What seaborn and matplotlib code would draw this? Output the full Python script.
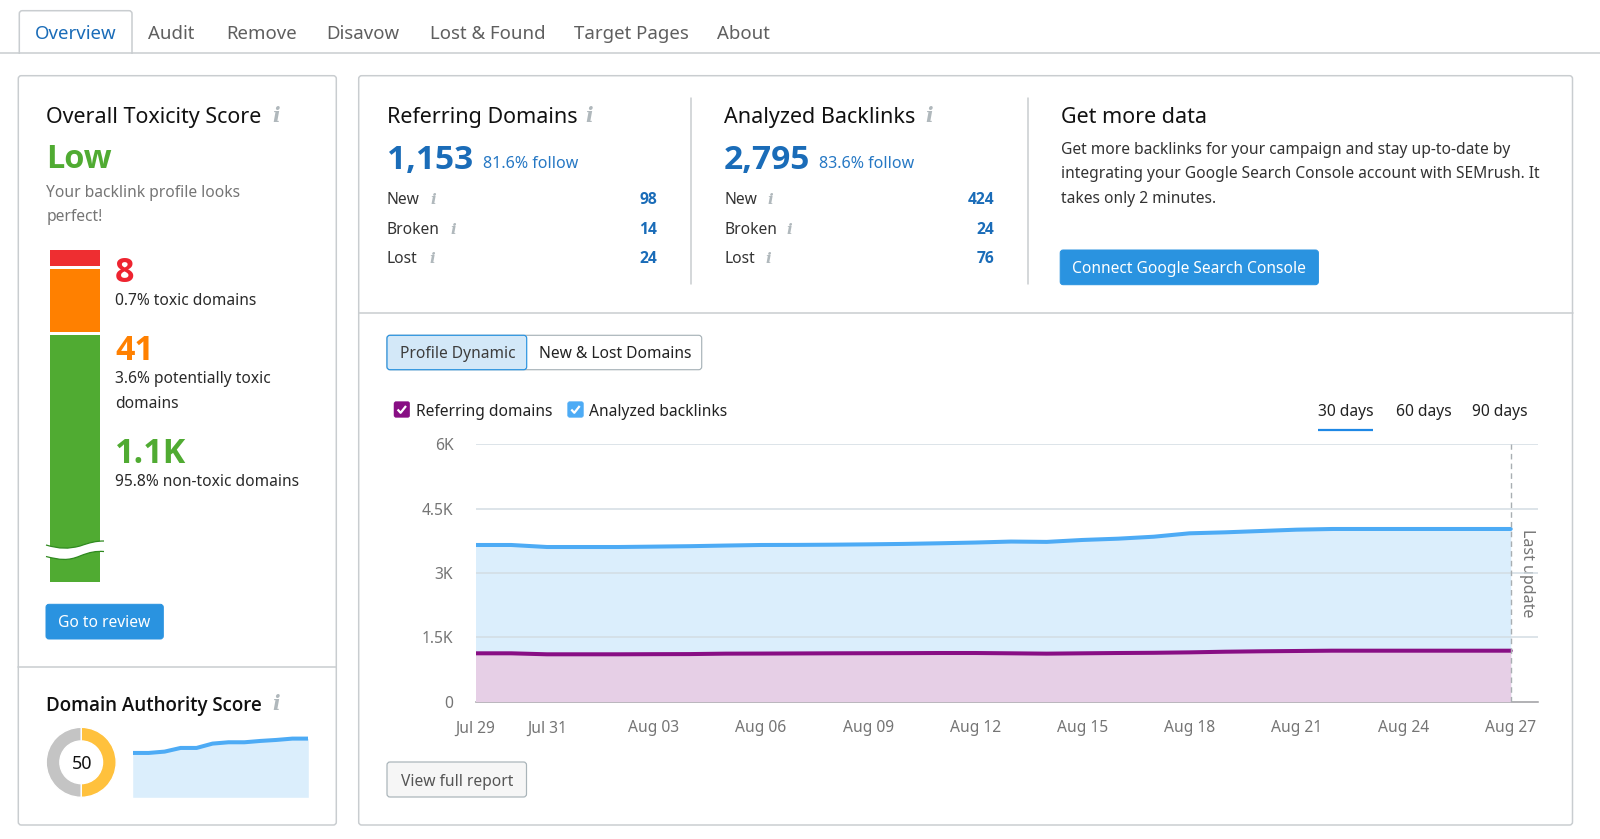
import numpy as np
import pandas as pd
import matplotlib
matplotlib.use('Agg')
import matplotlib.pyplot as plt
import seaborn as sns
from matplotlib.patches import FancyBboxPatch, Rectangle, PathPatch
from matplotlib.path import Path

sns.set_style('white')
plt.rcParams['font.family'] = ['Noto Sans', 'DejaVu Sans']

# chart data
day_index = list(range(30))
backlinks = [3653, 3653, 3606, 3606, 3606, 3615, 3625, 3640, 3653, 3655,
             3660, 3668, 3678, 3693, 3710, 3733, 3725, 3770, 3800, 3846,
             3925, 3948, 3979, 4010, 4026, 4026, 4026, 4026, 4026, 4026]
ref_domains = [1128, 1128, 1105, 1105, 1105, 1108, 1110, 1120, 1122, 1125,
               1128, 1130, 1132, 1135, 1135, 1128, 1120, 1128, 1135, 1140,
               1150, 1165, 1175, 1182, 1189, 1189, 1189, 1189, 1189, 1189]
tick_days = [0, 2, 5, 8, 11, 14, 17, 20, 23, 26, 29]
tick_dates = ['Jul 29', 'Jul 31', 'Aug 03', 'Aug 06', 'Aug 09', 'Aug 12',
              'Aug 15', 'Aug 18', 'Aug 21', 'Aug 24', 'Aug 27']
y_ticks = [0, 1500, 3000, 4500, 6000]
y_tick_labels = ['0', '1.5K', '3K', '4.5K', '6K']

tabs = ['Overview', 'Audit', 'Remove', 'Disavow', 'Lost & Found', 'Target Pages', 'About']
tab_x = [34.7, 148, 226, 326.5, 429.6, 573.5, 717.3]

toxic_labels = ['8', '41', '1.1K']
toxic_bar_lengths = [16, 63, 247]
toxic_colors = ['#ee2e31', '#ff8000', '#50ab32']
authority_share = [50, 50]
authority_trend = [133, 133, 137, 148, 148, 161, 165, 165, 169, 172, 176, 176]

W, H = 1600, 839
BLUE = '#2a93e0'
LINK = '#1a6cb8'
DARK = '#2a2a2a'
GRAY = '#757575'
SANS_BODY = 15.6


def px(size):
    return size * 0.72


fig = plt.figure(figsize=(W / 100, H / 100), dpi=100, facecolor='white')
ui = fig.add_axes([0, 0, 1, 1])
ui.set_xlim(0, W)
ui.set_ylim(H, 0)
ui.axis('off')


def sub_axes(x0, y0, x1, y1):
    # axes from pixel corners, y counted from the top
    a = fig.add_axes([x0 / W, 1 - y1 / H, (x1 - x0) / W, (y1 - y0) / H])
    a.patch.set_alpha(0)
    return a


def txt(x, y, s, size=SANS_BODY, color=DARK, ha='left', weight='normal', va='center_baseline', **kw):
    if size < 17:
        y -= 0.7
    # the Noto Sans here has no bold face, Open Sans has
    family = 'Noto Sans' if weight == 'normal' else 'Open Sans'
    ui.text(x, y, s, fontsize=px(size), color=color, ha=ha, va=va,
            fontweight=weight, family=family, **kw)


def box(x0, y0, x1, y1, fc='white', ec='#c9cdd0', lw=1.5, r=3):
    ui.add_patch(FancyBboxPatch((x0, y0), x1 - x0, y1 - y0, boxstyle=f'round,pad=0,rounding_size={r}',
                                fc=fc, ec=ec, lw=lw * 0.72))


def info(x, y, size=20):
    ui.text(x, y + 1.5, 'i', fontsize=px(size), color='#b0b8bc', ha='center', va='center',
            family='DejaVu Serif', style='italic', fontweight='bold')


# tab strip
ui.plot([0, W], [52.7, 52.7], color='#c9cdd0', lw=1.1)
ui.add_patch(FancyBboxPatch((19.3, 10.7), 112.7, 50, boxstyle='round,pad=0,rounding_size=3',
                            fc='white', ec='#c9cdd0', lw=1.1))
ui.add_patch(Rectangle((18, 53.5), 116, 12, fc='white', ec='none', zorder=2))
for name, x in zip(tabs, tab_x):
    txt(x, 32, name, size=18.6, color='#1a6cb8' if name == 'Overview' else '#5f5f5f', zorder=3)

# cards
box(18.3, 75.7, 336.3, 825)
ui.plot([18.3, 336.3], [667, 667], color='#c9cdd0', lw=1.1)
box(358.7, 75.7, 1572.5, 825)
ui.plot([358.7, 1572.5], [312.5, 312.5], color='#c9cdd0', lw=1.1)
ui.plot([690.6, 690.6], [98, 284], color='#c9cdd0', lw=1.1)
ui.plot([1027.6, 1027.6], [98, 284], color='#c9cdd0', lw=1.1)

# toxicity card
txt(46.5, 115, 'Overall Toxicity Score', size=21.5, color='#111111')
info(276.5, 115)
txt(46.5, 155, 'Low', size=32.5, color=toxic_colors[2], weight='bold')
txt(46.3, 191.3, 'Your backlink profile looks', color=GRAY)
txt(46.3, 215.7, 'perfect!', color=GRAY)

# stacked toxicity bar, 3 px of white between the segments
bar_ax = sub_axes(50, 250, 100, 582)
bottom = 0
for length, color in zip(toxic_bar_lengths, toxic_colors):
    bar_ax.bar(0, length, bottom=bottom, width=1, color=color, linewidth=0)
    bottom += length + 3
bar_ax.set_xlim(-0.5, 0.5)
bar_ax.set_ylim(bottom - 3, 0)
bar_ax.axis('off')

# white wave that marks the broken bar
wave_ax = fig.add_axes([0, 0, 1, 1], sharex=ui, sharey=ui)
wave_ax.axis('off')
wave_ax.patch.set_alpha(0)
verts = [(46, 545), (60, 549), (68, 549), (80, 546), (90, 542.5), (96, 541), (104, 541),
         (104, 551.5), (96, 551), (90, 552), (80, 556), (68, 561), (60, 560), (46, 556.5), (46, 545)]
codes = [Path.MOVETO] + [Path.CURVE4] * 6 + [Path.LINETO] + [Path.CURVE4] * 6 + [Path.CLOSEPOLY]
wave_ax.add_patch(PathPatch(Path(verts, codes), fc='white', ec='none'))
wave_ax.add_patch(PathPatch(Path(verts[:7], codes[:7]), fc='none', ec='#2f8a1f', lw=0.9))
wave_ax.add_patch(PathPatch(Path(verts[7:14], [Path.MOVETO] + [Path.CURVE4] * 6), fc='none', ec='#2f8a1f', lw=0.9))

txt(115, 268.5, toxic_labels[0], size=34, color='#ee2430', weight='bold')
txt(115, 300, '0.7% toxic domains')
txt(115, 347.5, toxic_labels[1], size=34, color=toxic_colors[1], weight='bold')
txt(115, 378, '3.6% potentially toxic')
txt(115, 402.7, 'domains')
txt(115, 450, toxic_labels[2], size=34, color=toxic_colors[2], weight='bold')
txt(115, 480.7, '95.8% non-toxic domains')

box(46, 604.3, 163.3, 639, fc=BLUE, ec=BLUE, lw=1)
txt(104.6, 621.5, 'Go to review', color='white', ha='center')

txt(46.5, 703, 'Domain Authority Score', size=18.8, color='#111111', weight='semibold')
info(276, 703)

# donut
donut_ax = sub_axes(46.2, 727.3, 116.2, 797.3)
donut_ax.pie(authority_share, colors=['#ffc13d', '#c4c4c4'], startangle=90, counterclock=False,
             radius=1, wedgeprops={'width': 0.39, 'edgecolor': 'white', 'linewidth': 1.0})
donut_ax.set_xlim(-1, 1)
donut_ax.set_ylim(-1, 1)
txt(81.7, 762.3, '50', size=18, color='#111111', ha='center')

# authority sparkline
spark_ax = sub_axes(132.7, 730.6, 308.3, 797.3)
spark_x = np.arange(len(authority_trend))
spark_ax.fill_between(spark_x, authority_trend, color='#dbeefc', lw=0)
sns.lineplot(x=spark_x, y=authority_trend, ax=spark_ax, color='#4dabf5', lw=2.9)
spark_ax.set_xlim(0, len(authority_trend) - 1)
spark_ax.set_ylim(0, 200)
spark_ax.axis('off')

# summary columns
txt(386.7, 115, 'Referring Domains', size=21.5, color='#111111')
info(588.8, 115)
txt(387, 156.3, '1,153', size=33.5, color=LINK, weight='bold')
txt(482.7, 162.5, '81.6% follow', size=16, color='#2678c4')
txt(724, 115, 'Analyzed Backlinks', size=21.5, color='#111111')
info(929.6, 115)
txt(724, 156.3, '2,795', size=33.5, color=LINK, weight='bold')
txt(819.4, 162.5, '83.6% follow', size=16, color='#2678c4')

row_y = [198.7, 228.2, 257.7]
row_names = ['New', 'Broken', 'Lost']
for names_x, i_x, vals, right in [(387, [433.7, 453, 432.6], ['98', '14', '24'], 657.3),
                                  (724, [770.4, 789.8, 768.4], ['424', '24', '76'], 994)]:
    for y, name, ix, val in zip(row_y, row_names, i_x, vals):
        txt(names_x, y, name, color='#333333')
        info(ix, y, size=15)
        txt(right, y, val, color=LINK, ha='right', weight='bold')

txt(1060.6, 115, 'Get more data', size=21.5, color='#111111')
txt(1060.6, 148.7, 'Get more backlinks for your campaign and stay up-to-date by', color='#333333')
txt(1060.6, 172.9, 'integrating your Google Search Console account with SEMrush. It', color='#333333')
txt(1060.6, 197.6, 'takes only 2 minutes.', color='#333333')
box(1060.2, 250, 1318.4, 284.7, fc=BLUE, ec=BLUE, lw=1)
txt(1189.3, 267.8, 'Connect Google Search Console', color='white', ha='center')

# toggle
box(387, 335.3, 701.7, 369.7, fc='white', ec='#a9b4b9', lw=1.2)
box(387, 335.3, 526.7, 369.7, fc='#d3e8f8', ec=BLUE, lw=1.2)
txt(399.5, 352.8, 'Profile Dynamic', color='#3d3d3d')
txt(539.3, 352.8, 'New & Lost Domains', color='#222222')

# legend check boxes
for x0, color, label in [(394, '#880e84', 'Referring domains'), (567.7, '#4dabf5', 'Analyzed backlinks')]:
    box(x0, 401.7, x0 + 15.7, 417.3, fc=color, ec=color, lw=0.5, r=2)
    ui.plot([x0 + 3.6, x0 + 6.6, x0 + 12], [409.5, 412.8, 406], color='white', lw=1.6, solid_capstyle='butt')
    txt(x0 + 21.7, 410.7, label, color='#222222')

# period switch
for x, label in [(1318.3, '30 days'), (1395.7, '60 days'), (1472.3, '90 days')]:
    txt(x, 410.7, label, color='#222222')
ui.plot([1318.3, 1373.3], [429.7, 429.7], color='#1e88e5', lw=1.6, solid_capstyle='butt')

# main chart
ax = sub_axes(475.5, 444.3, 1537.7, 701.7)
ax.fill_between(day_index, backlinks, color='#dbeefc', lw=0, zorder=1)
ax.set_axisbelow(False)
ax.hlines(y_ticks[1:], 0, 29.755, color='#d3dde3', lw=1.1, zorder=2)
ax.fill_between(day_index, ref_domains, color='#e6cfe6', lw=0, zorder=3)
frame = pd.DataFrame({'day': day_index, 'Analyzed backlinks': backlinks, 'Referring domains': ref_domains})
sns.lineplot(data=frame, x='day', y='Analyzed backlinks', ax=ax, color='#4dabf5', lw=2.9, zorder=4)
sns.lineplot(data=frame, x='day', y='Referring domains', ax=ax, color='#880e84', lw=2.9, zorder=4)
ax.axvline(29, color='#a8aeb2', lw=1, ls=(0, (4, 3)), zorder=5)
ax.set_xlim(0, 29.755)
ax.set_ylim(0, 6000)
ax.set_xticks(tick_days, tick_dates)
ax.set_yticks(y_ticks, y_tick_labels)
ax.set_xlabel('')
ax.set_ylabel('')
ax.tick_params(length=0, labelsize=px(SANS_BODY), labelcolor=GRAY)
ax.tick_params(axis='x', pad=13.5)
ax.tick_params(axis='y', pad=16)
sns.despine(ax=ax, left=True)
ax.spines['bottom'].set_color('#9c9ca0')
ax.spines['bottom'].set_linewidth(1.1)

txt(1526.7, 573.7, 'Last update', size=16, color=GRAY, ha='center', va='center', rotation=270)

box(387, 762, 526.5, 797, fc='#f6f6f6', ec='#a9b4b9', lw=1.2)
txt(456.7, 780.3, 'View full report', color='#555555', ha='center')

fig.savefig('out.png', dpi=100)
